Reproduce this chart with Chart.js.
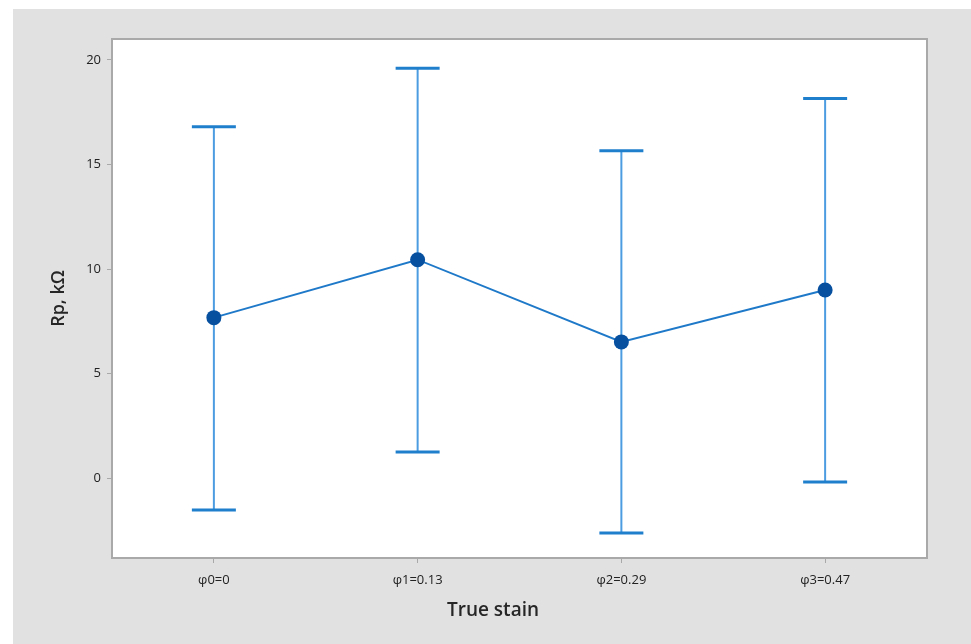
<!DOCTYPE html>
<html>
<head>
<meta charset="utf-8">
<script src="https://cdn.jsdelivr.net/npm/chart.js@4"></script>
<style>
  html, body { margin: 0; padding: 0; background: #ffffff; }
  #wrap { width: 971px; height: 644px; position: relative; }
</style>
</head>
<body>
<div id="wrap"><canvas id="c" width="971" height="644"></canvas></div>
<script>
// Interval plot of Rp versus true strain
const categories = ['φ0=0', 'φ1=0.13', 'φ2=0.29', 'φ3=0.47'];
const means = [7.68, 10.45, 6.52, 9.00];
const upperLimits = [16.81, 19.60, 15.66, 18.16];
const lowerLimits = [-1.52, 1.26, -2.62, -0.18];
const yTicks = [0, 5, 10, 15, 20];
const xTitle = 'True stain';
const yTitle = 'Rp, kΩ';

const points = means.map((v, i) => ({ x: i, y: v }));
const font = 'Open Sans';

// Gray panel behind the whole figure, framed white plot area and the x-axis title
const panelPlugin = {
  id: 'panel',
  beforeDraw(chart) {
    const { ctx, chartArea: a } = chart;
    ctx.save();
    ctx.fillStyle = '#e1e1e1';
    ctx.fillRect(13, 9, chart.width - 13, chart.height - 9);
    ctx.fillStyle = '#ffffff';
    ctx.fillRect(a.left, a.top, a.right - a.left, a.bottom - a.top);
    ctx.restore();
  },
  afterDraw(chart) {
    const { ctx, chartArea: a } = chart;
    ctx.save();
    ctx.strokeStyle = '#a9a9a9';
    ctx.lineWidth = 2;
    ctx.strokeRect(a.left, a.top, a.right - a.left, a.bottom - a.top);
    ctx.fillStyle = '#262626';
    ctx.font = '600 19px "' + font + '"';
    ctx.textAlign = 'center';
    ctx.textBaseline = 'middle';
    ctx.fillText(xTitle, 493, 611);
    ctx.restore();
  }
};

// Interval whiskers with caps, placed through the chart scales
const intervalPlugin = {
  id: 'intervals',
  beforeDatasetsDraw(chart) {
    const { ctx, scales: { x, y } } = chart;
    ctx.save();
    means.forEach((m, i) => {
      const px = x.getPixelForValue(i);
      const yHi = y.getPixelForValue(upperLimits[i]);
      const yLo = y.getPixelForValue(lowerLimits[i]);
      ctx.strokeStyle = '#4b9ce0';
      ctx.lineWidth = 2;
      ctx.beginPath();
      ctx.moveTo(px, yHi);
      ctx.lineTo(px, yLo);
      ctx.stroke();
      ctx.strokeStyle = '#1f7fcd';
      ctx.lineWidth = 3;
      const half = 22;
      [yHi, yLo].forEach(py => {
        ctx.beginPath();
        ctx.moveTo(px - half, py);
        ctx.lineTo(px + half, py);
        ctx.stroke();
      });
    });
    ctx.restore();
  }
};

new Chart(document.getElementById('c'), {
  type: 'line',
  data: {
    datasets: [{
      data: points,
      borderColor: '#1f79c9',
      borderWidth: 2,
      pointRadius: 7.5,
      pointHoverRadius: 7.5,
      pointBackgroundColor: '#0750a0',
      pointBorderColor: '#0750a0',
      pointBorderWidth: 0,
      tension: 0,
      fill: false
    }]
  },
  options: {
    responsive: false,
    animation: false,
    events: [],
    layout: { padding: { left: 13, top: 39, right: 44, bottom: 0 } },
    plugins: { legend: { display: false }, tooltip: { enabled: false } },
    scales: {
      x: {
        type: 'linear',
        min: -0.5,
        max: 3.5,
        afterBuildTicks(scale) { scale.ticks = categories.map((c, i) => ({ value: i })); },
        afterFit(scale) { scale.height = 86; },
        ticks: {
          callback: (v) => categories[v],
          color: '#222222',
          font: { family: font, size: 13 },
          padding: 9,
          maxRotation: 0
        },
        grid: { drawOnChartArea: false, tickLength: 5, tickColor: '#a9a9a9', tickWidth: 1 },
        border: { display: false }
      },
      y: {
        type: 'linear',
        min: -3.81,
        max: 21.0,
        afterBuildTicks(scale) { scale.ticks = yTicks.map(v => ({ value: v })); },
        afterFit(scale) { scale.width = 99; },
        ticks: {
          color: '#222222',
          font: { family: font, size: 13 },
          padding: 6
        },
        grid: { drawOnChartArea: false, tickLength: 5, tickColor: '#a9a9a9', tickWidth: 1 },
        border: { display: false },
        title: {
          display: true,
          text: yTitle,
          color: '#262626',
          font: { family: font, size: 18, weight: '600' },
          padding: { top: 35, bottom: 0 }
        }
      }
    }
  },
  plugins: [panelPlugin, intervalPlugin]
});
</script>
</body>
</html>
